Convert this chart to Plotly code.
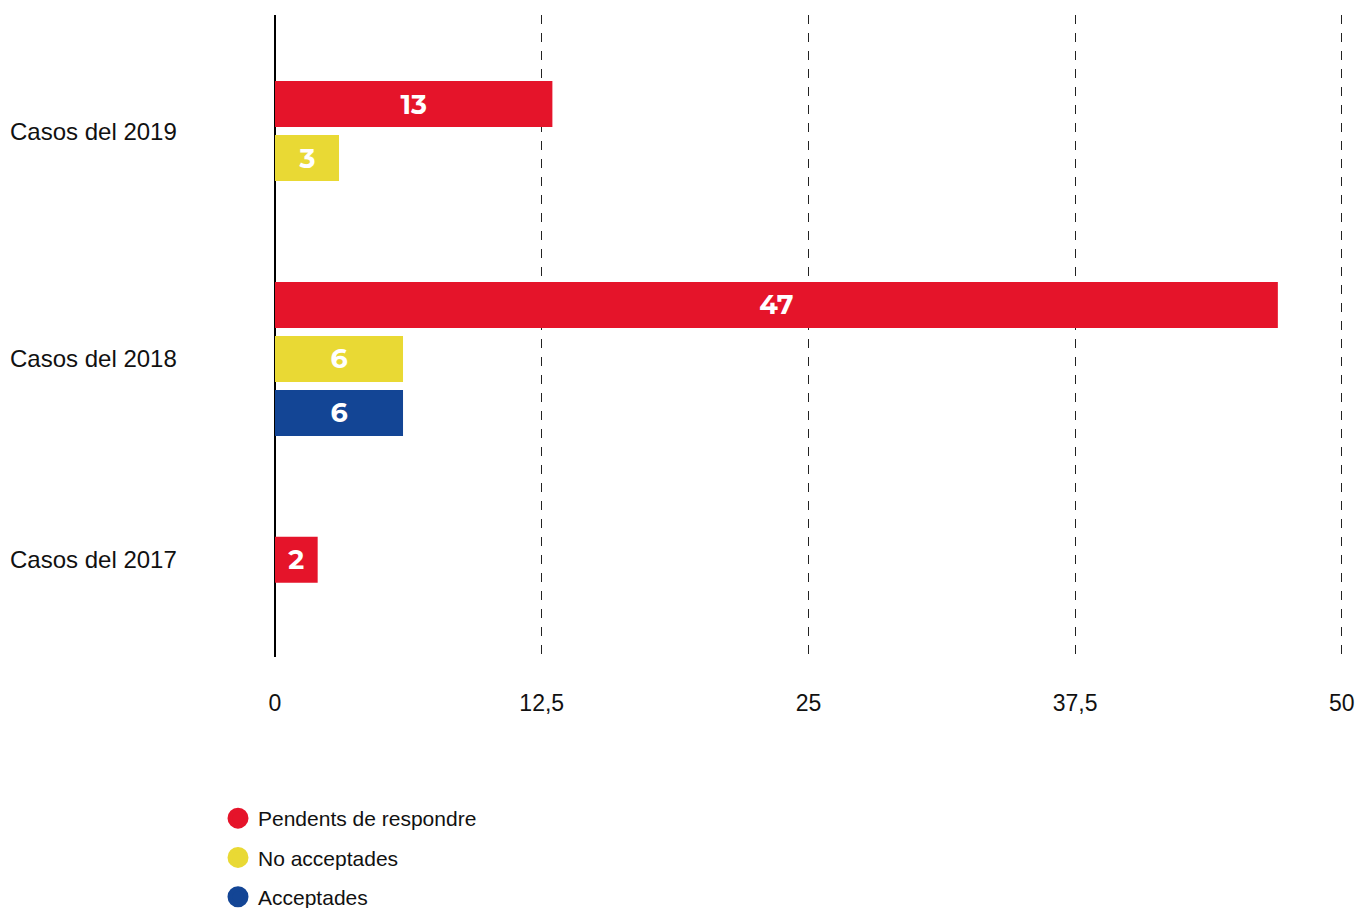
import plotly.graph_objects as go

# ---- data ----
categories = ["Casos del 2019", "Casos del 2018", "Casos del 2017"]
series_names = ["Pendents de respondre", "No acceptades", "Acceptades"]
pendents = [13, 47, 2]
no_acceptades = [3, 6, None]
acceptades = [None, 6, None]
series_values = [pendents, no_acceptades, acceptades]
colors = ["#E5142A", "#E9D934", "#134595"]
tick_vals = [0, 12.5, 25, 37.5, 50]
tick_text = ["0", "12,5", "25", "37,5", "50"]

# ---- slot layout (computed from which values are present) ----
start = 1.65
step = 1.0
group_step = 2.72
bar_w = 0.852

positions = [[None] * len(categories) for _ in series_names]
group_centers = []
cur = start
for ci, cat in enumerate(categories):
    slots = []
    for si in range(len(series_names)):
        if series_values[si][ci] is not None:
            positions[si][ci] = cur
            slots.append(cur)
            cur += step
    cur += group_step - step
    group_centers.append(sum(slots) / len(slots))

fig = go.Figure()
for si, name in enumerate(series_names):
    xs, ys = [], []
    for ci in range(len(categories)):
        v = series_values[si][ci]
        if v is not None:
            xs.append(v)
            ys.append(positions[si][ci])
    fig.add_trace(go.Bar(
        x=xs, y=ys, orientation="h", width=bar_w,
        marker=dict(color=colors[si], line=dict(width=0)),
        text=[str(v) for v in xs], textposition="inside",
        insidetextanchor="middle", textangle=0,
        constraintext="none",
        textfont=dict(family="Montserrat, Lato, sans-serif", size=27, color="white", weight="bold"),
        showlegend=False, hoverinfo="skip",
    ))
    fig.add_trace(go.Scatter(
        x=[None], y=[None], mode="markers", name=name,
        marker=dict(symbol="circle", size=24, color=colors[si],
                    line=dict(width=6, color=colors[si])),
        legendgroup=name, showlegend=True,
    ))

FW, FH = 1355, 908
L, T = 275, 15
plot_w, plot_h = 1069, 642
x_max = 50.1
R = FW - L - plot_w
B = FH - T - plot_h

for ci, cat in enumerate(categories):
    fig.add_annotation(
        text=cat, xref="paper", x=(8 - L) / plot_w, xanchor="left",
        yref="y", y=group_centers[ci], yanchor="middle", showarrow=False,
        font=dict(family="Liberation Sans, Arial, sans-serif", size=24, color="#111111"),
    )

legend_top = 798
fig.update_layout(
    width=FW, height=FH,
    margin=dict(l=L, r=R, t=T, b=B, autoexpand=False),
    paper_bgcolor="white", plot_bgcolor="white",
    barmode="overlay",
    font=dict(family="Liberation Sans, Arial, sans-serif", color="#111111"),
    xaxis=dict(
        range=[0, x_max], tickvals=tick_vals, ticktext=tick_text,
        showgrid=True, gridcolor="#222222", gridwidth=1, griddash="dash",
        zeroline=True, zerolinecolor="black", zerolinewidth=2,
        showline=False, ticks="", ticklabelstandoff=30, automargin=False,
        tickfont=dict(size=23, color="#111111"),
        fixedrange=True,
    ),
    yaxis=dict(
        range=[plot_h / 54.0, 0], showgrid=False, zeroline=False,
        showticklabels=False, ticks="", showline=False, fixedrange=True,
        automargin=False,
    ),
    legend=dict(
        orientation="v", x=(218 - L) / plot_w, xanchor="left",
        y=(plot_h - (legend_top - T)) / plot_h, yanchor="top",
        font=dict(size=21, color="#111111"),
        itemsizing="trace", tracegroupgap=9, bgcolor="rgba(0,0,0,0)",
    ),
    showlegend=True,
)

fig.write_html(
    "out.html",
    config={"displayModeBar": False},
    post_script="document.body.style.margin='0';document.documentElement.style.overflow='hidden';document.body.style.overflow='hidden';",
)
